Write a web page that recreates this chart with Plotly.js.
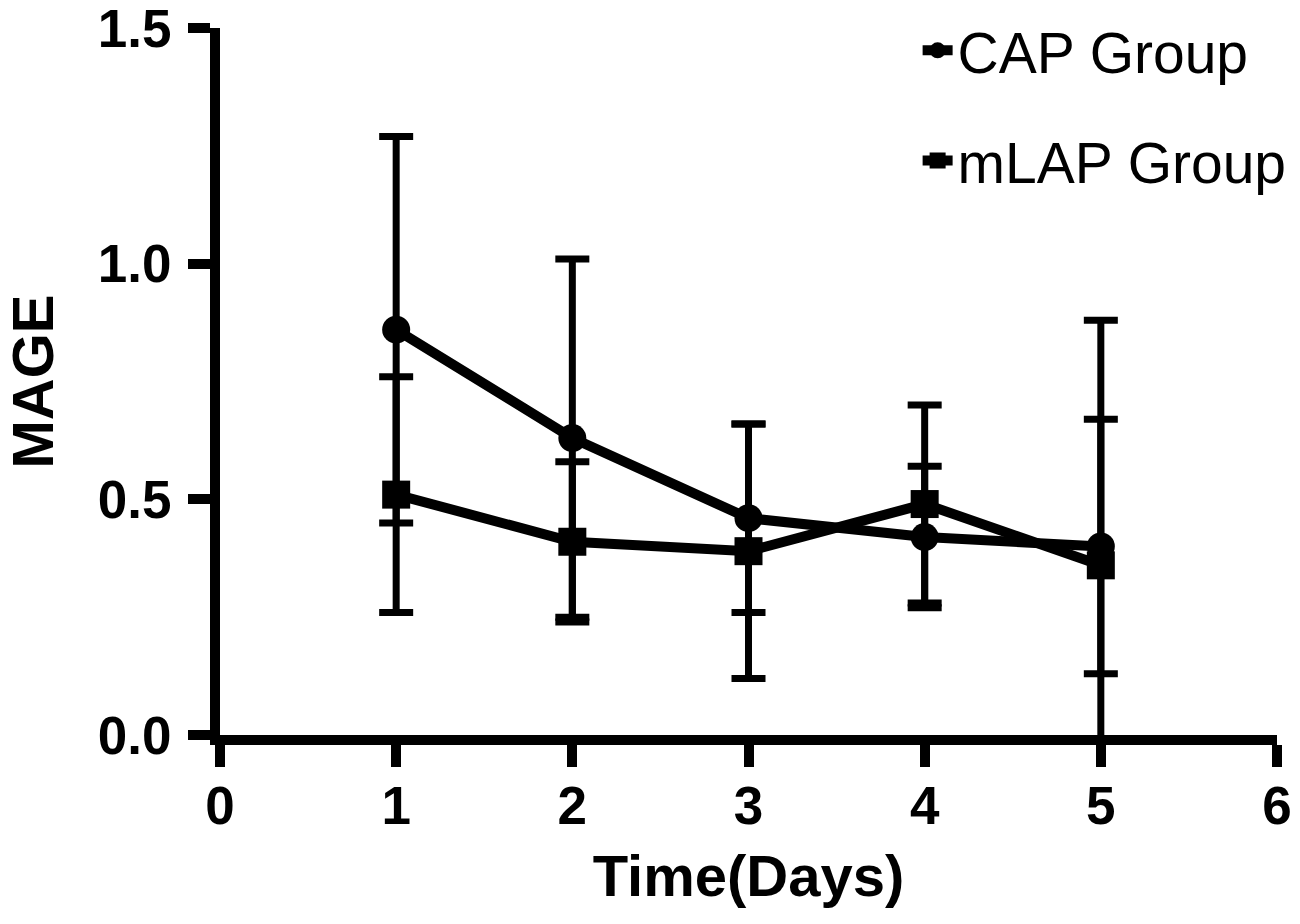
<!DOCTYPE html>
<html>
<head>
<meta charset="utf-8">
<script src="https://cdn.plot.ly/plotly-3.0.1.min.js"></script>
<style>
  html,body{margin:0;padding:0;background:#fff;}
  #chart{width:1300px;height:924px;}
</style>
</head>
<body>
<div id="chart"></div>
<script>
// days on the x axis
const days = [1, 2, 3, 4, 5];

// CAP group: mean and SD
const capMean = [0.86, 0.63, 0.46, 0.42, 0.40];
const capSD   = [0.41, 0.38, 0.20, 0.15, 0.27];

// mLAP group: mean and SD
const mlapMean = [0.51, 0.41, 0.39, 0.49, 0.36];
const mlapSD   = [0.25, 0.17, 0.27, 0.21, 0.52];

const xTicks = [0, 1, 2, 3, 4, 5, 6];
const yTicks = [0, 0.5, 1.0, 1.5];

const FONT = 'Arial, "Liberation Sans", Helvetica, sans-serif';

const err = sd => ({type:'data', array:sd, symmetric:true, color:'#000', thickness:7, width:17});

const traces = [
  {
    type:'scatter', mode:'lines+markers', name:'CAP Group', legendgroup:'cap',
    x:days, y:capMean, error_y:err(capSD),
    line:{color:'#000', width:10},
    marker:{symbol:'circle', size:28, color:'#000'}
  },
  {
    type:'scatter', mode:'lines+markers', name:'mLAP Group', legendgroup:'mlap',
    x:days, y:mlapMean, error_y:err(mlapSD),
    line:{color:'#000', width:10},
    marker:{symbol:'square', size:28, color:'#000'}
  }
];

const axisBase = {
  showgrid:false, zeroline:false, showline:true, linecolor:'#000', linewidth:10,
  ticks:'outside', ticklen:22, tickwidth:10, tickcolor:'#000',
  ticklabeloverflow:'allow',
  tickfont:{family:FONT, size:53, color:'#000', weight:'bold'}
};

const layout = {
  width:1300, height:924,
  margin:{l:220, r:23, t:28, b:189, autoexpand:false},
  paper_bgcolor:'#fff', plot_bgcolor:'#fff',
  font:{family:FONT, color:'#000'},
  xaxis:Object.assign({}, axisBase, {
    range:[0, 6], tickvals:xTicks, ticktext:xTicks.map(String),
    ticklabelstandoff:-7,
    title:{text:'Time(Days)', font:{family:FONT, size:58, color:'#000', weight:'bold'}, standoff:26}
  }),
  yaxis:Object.assign({}, axisBase, {
    range:[0, 1.5], tickvals:yTicks, ticktext:yTicks.map(v => v.toFixed(1)),
    ticklabelstandoff:6,
    title:{text:'MAGE', font:{family:FONT, size:58, color:'#000', weight:'bold'}, standoff:33}
  }),
  showlegend:true,
  legend:{
    x:0.66, xanchor:'left', y:1.03, yanchor:'top',
    font:{family:FONT, size:57, color:'#000'},
    bgcolor:'rgba(0,0,0,0)', borderwidth:0,
    traceorder:'grouped', tracegroupgap:33
  }
};

Plotly.newPlot('chart', traces, layout, {displayModeBar:false, staticPlot:true});
</script>
</body>
</html>
